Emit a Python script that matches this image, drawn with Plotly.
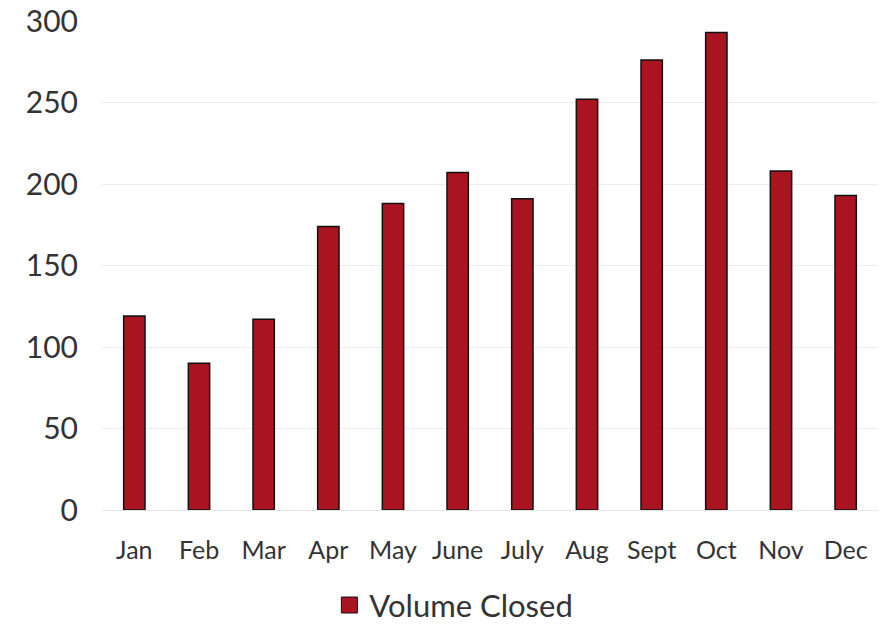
import plotly.graph_objects as go

months = ["Jan", "Feb", "Mar", "Apr", "May", "June", "July", "Aug", "Sept", "Oct", "Nov", "Dec"]
volume_closed = [119, 90, 117, 174, 188, 207, 191, 252, 276, 293, 208, 193]
y_ticks = [0, 50, 100, 150, 200, 250, 300]
series_name = "Volume Closed"

BAR = "#AA1421"
TXT = "#333333"
FONT = "Lato"

fig = go.Figure()
fig.add_trace(go.Bar(
    x=months, y=volume_closed, name=series_name, showlegend=False,
    marker=dict(color=BAR, line=dict(color="#111111", width=1.5)),
))
# legend entry with a larger square swatch
fig.add_trace(go.Scatter(
    x=[None], y=[None], mode="markers", name=series_name,
    marker=dict(symbol="square", size=16, color=BAR, line=dict(color="#111111", width=1)),
))

fig.update_layout(
    width=880, height=617,
    margin=dict(l=94, r=10, t=13, b=115, autoexpand=False),
    paper_bgcolor="white", plot_bgcolor="white",
    bargap=0.67,
    font=dict(family=FONT, color=TXT),
    showlegend=True,
    legend=dict(orientation="h", x=0.293, xanchor="left", y=-0.195, yanchor="middle",
                font=dict(size=31, family=FONT, color=TXT), itemwidth=30),
)
fig.update_yaxes(
    range=[0, 300], tickvals=y_ticks, showgrid=True, gridcolor="#ececec", gridwidth=1,
    zeroline=False, showline=False, tickfont=dict(size=30, family=FONT, color=TXT),
    ticklabelstandoff=23, ticklabeloverflow="allow",
)
fig.update_xaxes(
    showgrid=False, showline=True, linecolor="#e6e6e6", linewidth=1,
    tickfont=dict(size=25, family=FONT, color=TXT), ticklabelstandoff=18,
)

fig.write_html("out.html")
